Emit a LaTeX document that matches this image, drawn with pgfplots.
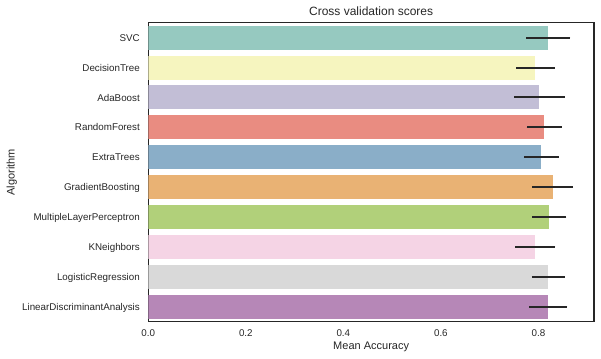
\documentclass[border=0pt]{standalone}
\usepackage{fontspec}
\setmainfont{Liberation Sans}
\usepackage{pgfplots}
\pgfplotsset{compat=1.18}
\definecolor{c1}{RGB}{150,201,192}
\definecolor{c2}{RGB}{246,245,191}
\definecolor{c3}{RGB}{194,190,214}
\definecolor{c4}{RGB}{233,140,129}
\definecolor{c5}{RGB}{138,174,200}
\definecolor{c6}{RGB}{233,178,116}
\definecolor{c7}{RGB}{177,208,122}
\definecolor{c8}{RGB}{245,212,229}
\definecolor{c9}{RGB}{217,217,217}
\definecolor{c10}{RGB}{182,135,183}
\definecolor{dk}{RGB}{38,38,38}
\begin{document}
\begin{tikzpicture}
\useasboundingbox (-148.3bp,-37.3bp) rectangle (452.7bp,321.7bp);
\begin{axis}[
  scale only axis,
  width=445.7bp, height=299bp,
  xmin=0, xmax=0.914,
  ymin=-0.5, ymax=9.5,
  y dir=reverse,
  xbar, bar width=0.8, bar shift=0pt,
  axis line style={dk, line width=1.1bp},
  major tick length=0pt,
  xtick={0,0.2,0.4,0.6,0.8},
  ytick={0,...,9},
  yticklabels={SVC,DecisionTree,AdaBoost,RandomForest,ExtraTrees,GradientBoosting,MultipleLayerPerceptron,KNeighbors,LogisticRegression,LinearDiscriminantAnalysis},
  xticklabel={\pgfmathprintnumber[fixed,fixed zerofill,precision=1]{\tick}},
  /pgf/number format/assume math mode=true,
  tick label style={font=\fontsize{9.8bp}{12bp}\selectfont, text=dk, inner sep=0pt},
  xticklabel style={anchor=base, yshift=-14.3bp},
  yticklabel style={anchor=base east, xshift=-8.3bp, yshift=-3.6bp},
  xlabel={Mean Accuracy},
  ylabel={Algorithm},
  title={Cross validation scores},
  label style={font=\fontsize{11bp}{13bp}\selectfont, text=dk, inner sep=0pt},
  xlabel style={at={(axis description cs:0.5,0)}, anchor=base, yshift=-27.6bp},
  ylabel style={at={(axis description cs:-0.3000,0.5)}, anchor=base},
  every axis title shift=0pt,
  title style={font=\fontsize{12bp}{14bp}\selectfont, text=dk, inner sep=0pt, at={(axis description cs:0.5,1)}, anchor=base, yshift=6.7bp},
  error bars/x dir=both, error bars/x explicit,
  error bars/error mark=none,
  error bars/error bar style={dk, line width=2bp},
]
\addplot[draw=none, fill=c1] coordinates {(0.8205,0) +- (0.045,0.045)};
\addplot[draw=none, fill=c2] coordinates {(0.794,1) +- (0.039,0.039)};
\addplot[draw=none, fill=c3] coordinates {(0.802,2) +- (0.052,0.052)};
\addplot[draw=none, fill=c4] coordinates {(0.812,3) +- (0.036,0.036)};
\addplot[draw=none, fill=c5] coordinates {(0.806,4) +- (0.036,0.036)};
\addplot[draw=none, fill=c6] coordinates {(0.829,5) +- (0.042,0.042)};
\addplot[draw=none, fill=c7] coordinates {(0.8225,6) +- (0.035,0.035)};
\addplot[draw=none, fill=c8] coordinates {(0.794,7) +- (0.041,0.041)};
\addplot[draw=none, fill=c9] coordinates {(0.8205,8) +- (0.034,0.034)};
\addplot[draw=none, fill=c10] coordinates {(0.8205,9) +- (0.039,0.039)};
\end{axis}
\end{tikzpicture}
\end{document}
